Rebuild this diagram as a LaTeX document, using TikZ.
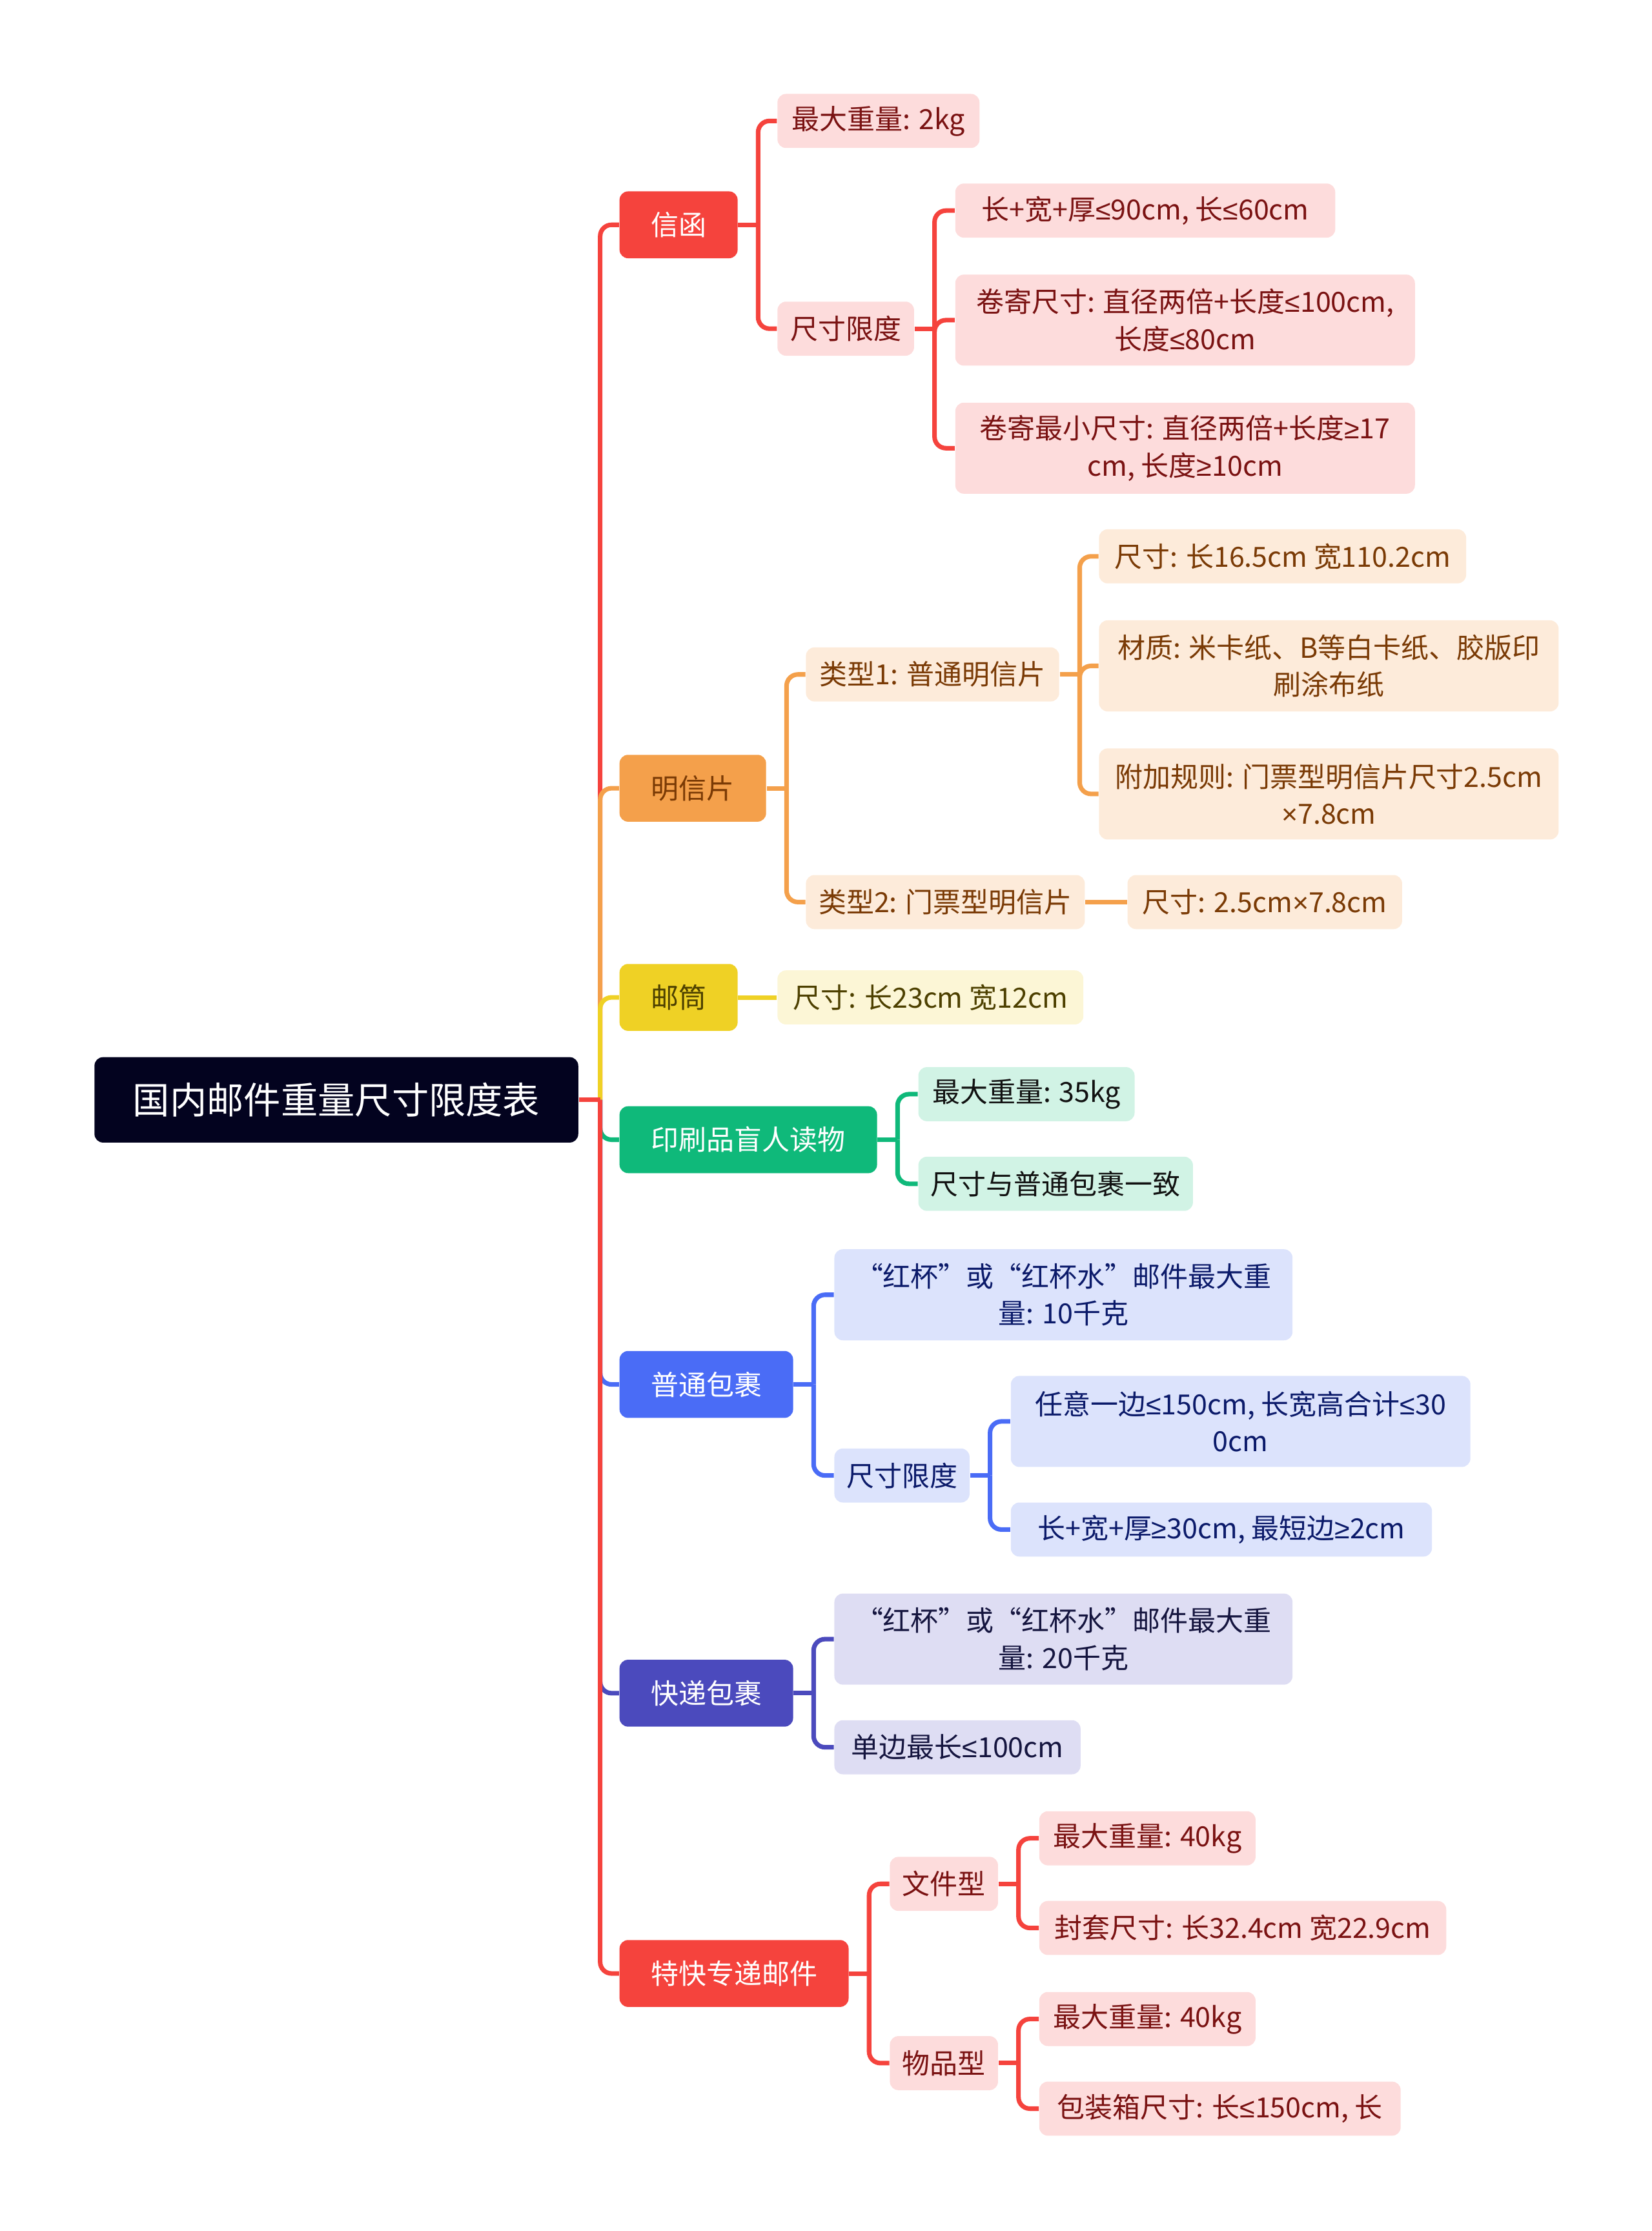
\documentclass[tikz,border=0pt]{standalone}
\usepackage{fontspec}
\setmainfont{Noto Sans CJK SC}
\newfontfamily\symfont{Liberation Sans}
\newcommand{\lesym}{{\symfont ≤}}
\newcommand{\gesym}{{\symfont ≥}}
\newcommand{\timessym}{{\symfont ×}}
\usetikzlibrary{calc}
\definecolor{RootClr}{HTML}{03031F}
\definecolor{RedClr}{HTML}{F5433D}
\definecolor{RedLt}{HTML}{FDDCDC}
\definecolor{RedTx}{HTML}{7A1212}
\definecolor{OrgClr}{HTML}{F4A04B}
\definecolor{OrgLt}{HTML}{FDEBDA}
\definecolor{OrgTx}{HTML}{7A3A05}
\definecolor{YelClr}{HTML}{EFD125}
\definecolor{YelLt}{HTML}{FCF6D6}
\definecolor{YelTx}{HTML}{4D4000}
\definecolor{GrnClr}{HTML}{0FB97A}
\definecolor{GrnLt}{HTML}{D1F3E5}
\definecolor{GrnTx}{HTML}{111111}
\definecolor{BluClr}{HTML}{4A6CF6}
\definecolor{BluLt}{HTML}{DCE3FC}
\definecolor{BluTx}{HTML}{0B1A6A}
\definecolor{IndClr}{HTML}{4B4ABD}
\definecolor{IndLt}{HTML}{DEDDF3}
\definecolor{IndTx}{HTML}{15153F}

\begin{document}
\begin{tikzpicture}[x=0.5pt,y=-0.5pt,
  txt/.style={font=\fontsize{9.75}{13}\selectfont},
  rootbox/.style={rounded corners=3pt,fill=RootClr,text=white,anchor=west,
    minimum width=170pt,minimum height=30pt,inner sep=0pt,font=\fontsize{13}{16}\selectfont},
  topic/.style={rounded corners=3pt,fill=#1,text=white,anchor=west,
    minimum height=23.5pt,inner sep=0pt,txt},
  leaf/.style 2 args={rounded corners=3pt,fill=#1,text=#2,anchor=west,
    minimum height=19pt,inner sep=0pt,align=center,txt},
  twoline/.style={minimum height=32pt},
  redleaf/.style={leaf={RedLt}{RedTx}},
  orgleaf/.style={leaf={OrgLt}{OrgTx}},
  yelleaf/.style={leaf={YelLt}{YelTx}},
  grnleaf/.style={leaf={GrnLt}{GrnTx}},
  bluleaf/.style={leaf={BluLt}{BluTx}},
  indleaf/.style={leaf={IndLt}{IndTx}},
  conn/.style={line width=1.6pt,rounded corners=4pt,draw=#1}]
\useasboundingbox (0,0) rectangle (1161,1568);

\node[rootbox] (root) at (66,773) {国内邮件重量尺寸限度表};

\node[topic=RedClr,minimum width=41.5pt] (xh) at (435,158) {信函};
\node[topic=OrgClr,text=OrgTx,minimum width=51.5pt] (mxp) at (435,554) {明信片};
\node[topic=YelClr,text=YelTx,minimum width=41.5pt] (yt) at (435,701) {邮筒};
\node[topic=GrnClr,minimum width=90.5pt] (ysp) at (435,801) {印刷品盲人读物};
\node[topic=BluClr,minimum width=61pt] (ptbg) at (435,973) {普通包裹};
\node[topic=IndClr,minimum width=61pt] (kdbg) at (435,1190) {快递包裹};
\node[topic=RedClr,minimum width=80.5pt] (tkzd) at (435,1387) {特快专递邮件};

\node[redleaf,minimum width=71pt] (xh1) at (546,85) {最大重量: 2kg};
\node[redleaf,minimum width=48pt] (xh2) at (546,231) {尺寸限度};
\node[redleaf,minimum width=133.5pt] (xh21) at (671,148) {长+宽+厚\lesym90cm, 长\lesym60cm};
\node[redleaf,twoline,minimum width=161.5pt] (xh22) at (671,225) {卷寄尺寸: 直径两倍+长度\lesym100cm,\\长度\lesym80cm};
\node[redleaf,twoline,minimum width=161.5pt] (xh23) at (671,315) {卷寄最小尺寸: 直径两倍+长度\gesym17\\cm, 长度\gesym10cm};

\node[orgleaf,minimum width=89pt] (mx1) at (566,474) {类型1: 普通明信片};
\node[orgleaf,minimum width=129pt] (mx11) at (772,391) {尺寸: 长16.5cm 宽110.2cm};
\node[orgleaf,twoline,minimum width=161.5pt] (mx12) at (772,468) {材质: 米卡纸、B等白卡纸、胶版印\\刷涂布纸};
\node[orgleaf,twoline,minimum width=161.5pt] (mx13) at (772,558) {附加规则: 门票型明信片尺寸2.5cm\\\timessym7.8cm};
\node[orgleaf,minimum width=98pt] (mx2) at (566,634) {类型2: 门票型明信片};
\node[orgleaf,minimum width=96.5pt] (mx21) at (792,634) {尺寸: 2.5cm\timessym7.8cm};

\node[yelleaf,minimum width=107.5pt] (yt1) at (546,701) {尺寸: 长23cm 宽12cm};

\node[grnleaf,minimum width=76pt] (ys1) at (645,769) {最大重量: 35kg};
\node[grnleaf,minimum width=96.5pt] (ys2) at (645,832) {尺寸与普通包裹一致};

\node[bluleaf,twoline,minimum width=161pt] (pt1) at (586,910) {“红杯”或“红杯水”邮件最大重\\量: 10千克};
\node[bluleaf,minimum width=47.5pt] (pt2) at (586,1037) {尺寸限度};
\node[bluleaf,twoline,minimum width=161.5pt] (pt21) at (710,999) {任意一边\lesym150cm, 长宽高合计\lesym30\\0cm};
\node[bluleaf,minimum width=148pt] (pt22) at (710,1075) {长+宽+厚\gesym30cm, 最短边\gesym2cm};

\node[indleaf,twoline,minimum width=161pt] (kd1) at (586,1152) {“红杯”或“红杯水”邮件最大重\\量: 20千克};
\node[indleaf,minimum width=86.5pt] (kd2) at (586,1228) {单边最长\lesym100cm};

\node[redleaf,minimum width=38pt] (tk1) at (625,1324) {文件型};
\node[redleaf,minimum width=76pt] (tk11) at (730,1292) {最大重量: 40kg};
\node[redleaf,minimum width=143pt] (tk12) at (730,1355) {封套尺寸: 长32.4cm 宽22.9cm};
\node[redleaf,minimum width=38pt] (tk2) at (625,1450) {物品型};
\node[redleaf,minimum width=76pt] (tk21) at (730,1419) {最大重量: 40kg};
\node[redleaf,minimum width=127pt] (tk22) at (730,1482) {包装箱尺寸: 长\lesym150cm, 长};

\foreach \t/\c in {xh/RedClr,mxp/OrgClr,yt/YelClr,ysp/GrnClr,ptbg/BluClr,kdbg/IndClr,tkzd/RedClr}
  \draw[conn=\c] (root.east) ++(15,0) |- (\t.west);
\draw[conn=RedClr] (root.east) -- ++(15,0);

\foreach \c in {xh1,xh2} \draw[conn=RedClr] (xh.east) ++(14,0) |- (\c.west);
\draw[conn=RedClr] (xh.east) -- ++(14,0);
\foreach \c in {xh21,xh22,xh23} \draw[conn=RedClr] (xh2.east) ++(14,0) |- (\c.west);
\draw[conn=RedClr] (xh2.east) -- ++(14,0);

\foreach \c in {mx1,mx2} \draw[conn=OrgClr] (mxp.east) ++(14,0) |- (\c.west);
\draw[conn=OrgClr] (mxp.east) -- ++(14,0);
\foreach \c in {mx11,mx12,mx13} \draw[conn=OrgClr] (mx1.east) ++(14,0) |- (\c.west);
\draw[conn=OrgClr] (mx1.east) -- ++(14,0);
\draw[conn=OrgClr] (mx2.east) -- (mx21.west);

\draw[conn=YelClr] (yt.east) -- (yt1.west);

\foreach \c in {ys1,ys2} \draw[conn=GrnClr] (ysp.east) ++(14,0) |- (\c.west);
\draw[conn=GrnClr] (ysp.east) -- ++(14,0);

\foreach \c in {pt1,pt2} \draw[conn=BluClr] (ptbg.east) ++(14,0) |- (\c.west);
\draw[conn=BluClr] (ptbg.east) -- ++(14,0);
\foreach \c in {pt21,pt22} \draw[conn=BluClr] (pt2.east) ++(14,0) |- (\c.west);
\draw[conn=BluClr] (pt2.east) -- ++(14,0);

\foreach \c in {kd1,kd2} \draw[conn=IndClr] (kdbg.east) ++(14,0) |- (\c.west);
\draw[conn=IndClr] (kdbg.east) -- ++(14,0);

\foreach \c in {tk1,tk2} \draw[conn=RedClr] (tkzd.east) ++(14,0) |- (\c.west);
\draw[conn=RedClr] (tkzd.east) -- ++(14,0);
\foreach \c in {tk11,tk12} \draw[conn=RedClr] (tk1.east) ++(14,0) |- (\c.west);
\draw[conn=RedClr] (tk1.east) -- ++(14,0);
\foreach \c in {tk21,tk22} \draw[conn=RedClr] (tk2.east) ++(14,0) |- (\c.west);
\draw[conn=RedClr] (tk2.east) -- ++(14,0);

\end{tikzpicture}
\end{document}
